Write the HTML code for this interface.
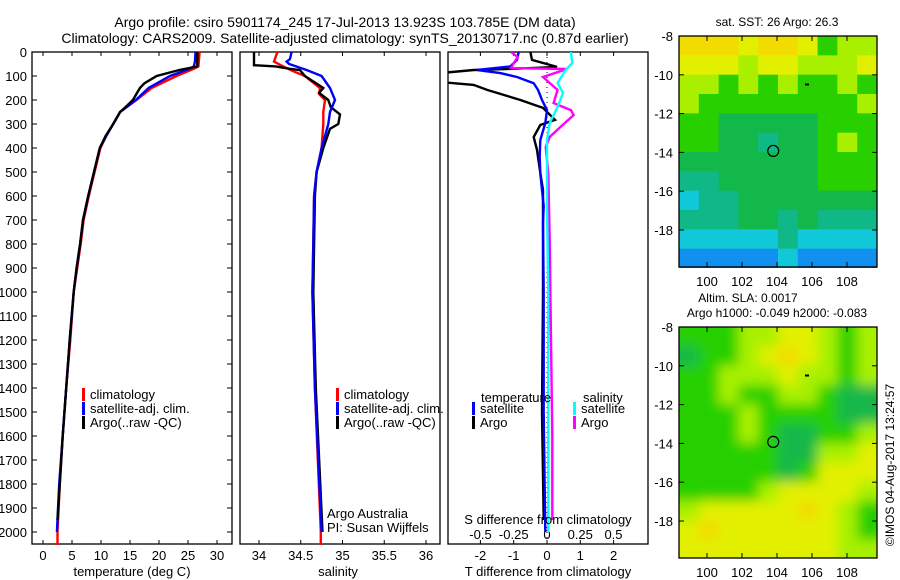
<!DOCTYPE html>
<html><head><meta charset="utf-8"><style>
html,body{margin:0;padding:0;background:#fff;}
svg{display:block;font-family:"Liberation Sans",sans-serif;}
text{fill:#000;}
</style></head><body>
<svg id="chart" width="900" height="580" viewBox="0 0 900 580" xmlns="http://www.w3.org/2000/svg">
<defs>
<clipPath id="clip3"><rect x="448" y="52" width="200" height="492"/></clipPath>
<clipPath id="clipm1"><rect x="679" y="36" width="198" height="232"/></clipPath>
<clipPath id="clipm2"><rect x="679" y="327" width="198" height="231"/></clipPath>
<filter id="blur" x="-5%" y="-5%" width="110%" height="110%"><feGaussianBlur stdDeviation="6"/></filter>
</defs>
<g id="root"></g>
</svg>
<script>
// ---- data ----
const depthTicks = [0,100,200,300,400,500,600,700,800,900,1000,1100,1200,1300,1400,1500,1600,1700,1800,1900,2000];
const tempTicks = [0,5,10,15,20,25,30];
const salTicks = [34,34.5,35,35.5,36];
const salTickLabels = ["34","34.5","35","35.5","36"];
const tdiffTicks = [-2,-1,0,1,2];
const sdiffTicks = [-0.5,-0.25,0,0.25,0.5];
const sdiffTickLabels = ["-0.5","-0.25","0","0.25","0.5"];

const climTDepth = [0,60,70,100,150,200,250,300,350,400,500,600,700,800,900,1000,1200,1400,1600,1800,2000,2054];
const climT = [27,26.8,26,23,18.7,16.1,13.3,12.1,10.9,9.9,8.9,7.9,7.0,6.5,5.9,5.3,4.7,4.0,3.4,2.9,2.5,2.5];
const satTDepth = [0,40,60,70,100,150,200,250,300,350,400,500,600,700,800,900,1000,1200,1400,1600,1800,2000];
const satT = [26.3,26.2,26.0,25.3,21.9,18.2,16.0,13.3,12.1,10.9,9.8,8.8,7.8,6.9,6.4,5.8,5.3,4.6,4.0,3.4,2.8,2.4];
const argoTDepth = [0,60,68,75,100,130,150,200,230,250,300,350,400,500,600,700,800,900,1000,1200,1400,1600,1800,1950];
const argoT = [26.6,26.6,25,23.5,19.6,17.5,16.7,15.5,14.2,13.3,12.1,10.8,9.8,8.8,7.8,6.9,6.4,5.8,5.3,4.6,4.0,3.4,2.9,2.5];

const climSDepth = [0,40,60,80,100,150,175,200,250,300,400,500,600,800,1000,1400,2000,2054];
const climS = [34.22,34.18,34.29,34.41,34.55,34.73,34.72,34.79,34.77,34.77,34.75,34.69,34.66,34.65,34.64,34.67,34.74,34.74];
const satSDepth = [0,30,40,50,75,100,150,200,250,300,350,400,500,600,800,1000,1400,2000];
const satS = [34.39,34.37,34.33,34.36,34.57,34.75,34.85,34.91,34.85,34.83,34.79,34.75,34.69,34.66,34.65,34.64,34.67,34.75];
const argoSDepth = [0,55,60,70,75,100,150,170,200,230,260,300,320,400,500,600,1000,1400,2000];
const argoS = [33.94,33.94,34.2,34.37,34.49,34.55,34.77,34.72,34.83,34.86,34.97,34.95,34.85,34.77,34.69,34.67,34.65,34.68,34.76];

const dTsatDepth = [0,33,60,75,88,104,130,158,200,242,296,367,437,504,575,642,713,1000,1500,2000];
const dTsat = [-0.85,-0.9,-1.1,-2.1,-1.4,-0.9,-0.4,-0.27,-0.15,0,-0.05,-0.2,-0.22,-0.2,-0.15,-0.1,-0.12,-0.1,-0.1,-0.05];
const dTargoDepth = [0,33,54,62,70,75,88,125,137,158,200,233,283,304,354,408,504,575,713,1000,1500,1950];
const dTargo = [-0.5,-0.45,0.1,0.3,-1,-2.2,-3.2,-3.2,-2.2,-1.8,-0.8,-0.12,0.24,-0.2,-0.4,-0.3,-0.2,-0.12,-0.12,-0.12,-0.15,-0.1];
const dSsatDepth = [0,46,75,129,171,229,296,367,504,645,1000,1500,2000];
const dSsat = [0.18,0.19,0.14,0.08,0.12,0.08,0.02,0,0,0,0.01,0.01,0.01];
const dSargoDepth = [0,21,46,67,71,104,129,158,213,242,263,313,354,396,504,783,1200,1600,1950];
const dSargo = [-0.27,-0.22,-0.25,-0.27,0.15,-0.03,0.02,0.08,0.05,0.18,0.2,0.1,0.02,-0.01,0.01,0.02,0.03,0.04,0.04];

const lonTicks = [100,102,104,106,108];
const latTicks = [-8,-10,-12,-14,-16,-18];
const argoLon = 103.785, argoLat = -13.923;
const sstGrid = [
"OOOYOOYGLL","YYYLYYLLLY","LLGLGLGGLG","LGGGGGGGGL","GGDDDDDGGG","GGDDTDDGLG",
"DDDDDDDGGG","TTDDDDDGGG","CTTDDDDDDD","TTTDDTDTTT","CCCCCTCCCC","BBBBBCBBBB"];
const slaGrid = [
"GGGLLYYLGL","DGGLYOYLGL","GGLLLYLLGL","GGLGGLLGDD","GGGLGGGGDD","GGGLGDDGGL",
"GGGGGDDLLY","GGGGGDGYYY","GGGGLYYYYL","LYYYYYOYLG","YOYYYYYYLG","YYYYYYYYLL"];
const palette = {O:"#f2dc00",Y:"#e2f000",L:"#a8f000",G:"#28d000",D:"#12b84a",T:"#10b888",C:"#10c8d8",B:"#1290f0"};

// ---- scales ----
const yD = d => 52 + d*0.24;
const xT = t => 43 + t*5.8;
const xS = s => 259 + (s-34)*83.5;
const xDT = v => 547 + v*33.3;
const xDS = v => 547 + v*133;
const mLon = lo => 707 + (lo-100)*17.5;
const m1Lat = la => 36 + (-8-la)*19.4;
const m2Lat = la => 327 + (-8-la)*19.4;

const NS="http://www.w3.org/2000/svg";
const root=document.getElementById('root');
function mk(tag,attrs,parent){const e=document.createElementNS(NS,tag);for(const k in attrs)e.setAttribute(k,attrs[k]);(parent||root).appendChild(e);return e;}
function txt(x,y,s,size,anchor,parent){const t=mk('text',{x:x,y:y,'font-size':size||13,'text-anchor':anchor||'middle'},parent);t.textContent=s;return t;}

// titles
let t1=txt(345,27,"Argo profile: csiro 5901174_245 17-Jul-2013 13.923S 103.785E (DM data)",14);


let t2=txt(345,43,"Climatology: CARS2009. Satellite-adjusted climatology: synTS_20130717.nc (0.87d earlier)",14);



function panel(x0,name){
  const g=mk('g',{});
  
  
  const r=mk('rect',{x:x0,y:52,width:200,height:492,fill:'none',stroke:'#000','stroke-width':1.3},g);
  
  
  return g;
}
function xticks(g,vals,labels,fx,y,len){
  vals.forEach((v,i)=>{
    const x=fx(v);
    mk('line',{x1:x,x2:x,y1:52,y2:52+len,stroke:'#000'},g);
    mk('line',{x1:x,x2:x,y1:544,y2:544-len,stroke:'#000'},g);
    const t=txt(x,y,labels[i],13,'middle',g);
    
    
  });
}
function series(g,depths,vals,fx,color,name,w){
  const pts=depths.map((d,i)=>fx(vals[i]).toFixed(1)+','+yD(d).toFixed(1)).join(' ');
  const p=mk('polyline',{points:pts,fill:'none',stroke:color,'stroke-width':w||2.4,'stroke-linejoin':'miter'},g);
  
  
}
function legendEntry(g,x,y,color,label,name){
  const e=mk('g',{},g);
  
  
  mk('rect',{x:x,y:y-10,width:3,height:13,fill:color},e);
  txt(x+8,y+1,label,13,'start',e);
}

// panel 1 temperature
const p1=panel(32,'temperature-panel');
depthTicks.forEach(d=>{
  const y=yD(d);
  mk('line',{x1:32,x2:37,y1:y,y2:y,stroke:'#000'},p1);
  mk('line',{x1:232,x2:227,y1:y,y2:y,stroke:'#000'},p1);
  const t=txt(27,y+5,String(d),13,'end',p1);
  
  
});
xticks(p1,tempTicks,tempTicks.map(String),xT,560,4);
let xl1=txt(132,576,"temperature (deg C)",13);


series(p1,climTDepth,climT,xT,'#ff0000','climatology-temperature-line');
series(p1,satTDepth,satT,xT,'#0000ff','satellite-temperature-line');
series(p1,argoTDepth,argoT,xT,'#000000','argo-temperature-line');
legendEntry(p1,82,398,'#ff0000','climatology','legend-climatology');
legendEntry(p1,82,412,'#0000ff','satellite-adj. clim.','legend-satellite');
legendEntry(p1,82,426,'#000000','Argo(..raw -QC)','legend-argo');

// panel 2 salinity
const p2=panel(240,'salinity-panel');
xticks(p2,salTicks,salTickLabels,xS,560,4);
let xl2=txt(338,576,"salinity",13);


series(p2,climSDepth,climS,xS,'#ff0000','climatology-salinity-line');
series(p2,argoSDepth,argoS,xS,'#000000','argo-salinity-line');
series(p2,satSDepth,satS,xS,'#0000ff','satellite-salinity-line');
legendEntry(p2,336,398,'#ff0000','climatology','legend-climatology-2');
legendEntry(p2,336,412,'#0000ff','satellite-adj. clim.','legend-satellite-2');
legendEntry(p2,336,426,'#000000','Argo(..raw -QC)','legend-argo-2');
let cr1=txt(327,518,"Argo Australia",13,'start',p2);


let cr2=txt(327,532,"PI: Susan Wijffels",13,'start',p2);



// panel 3 differences
const p3=panel(448,'difference-panel');
xticks(p3,tdiffTicks,tdiffTicks.map(String),xDT,560,4);
sdiffTicks.forEach((v,i)=>{
  const t=txt(xDS(v),539,sdiffTickLabels[i],13,'middle',p3);
  
  
});
let sdl=txt(548,524,"S difference from climatology",13);


let xl3=txt(548,576,"T difference from climatology",13);


const zl=mk('line',{x1:xDT(0),x2:xDT(0),y1:52,y2:544,stroke:'#000','stroke-dasharray':'1,4'},p3);


const c3=mk('g',{'clip-path':'url(#clip3)'},p3);
series(c3,dTargoDepth,dTargo,xDT,'#000000','argo-t-diff-line');
series(c3,dTsatDepth,dTsat,xDT,'#0000ff','satellite-t-diff-line');
series(c3,dSargoDepth,dSargo,xDS,'#ff00ff','argo-s-diff-line');
series(c3,dSsatDepth,dSsat,xDS,'#00ffff','satellite-s-diff-line');
let lt=txt(481,402,"temperature",13,'start',p3);


let ls=txt(583,402,"salinity",13,'start',p3);


legendEntry(p3,472,412,'#0000ff','satellite','legend-t-satellite');
legendEntry(p3,472,426,'#000000','Argo','legend-t-argo');
legendEntry(p3,573,412,'#00ffff','satellite','legend-s-satellite');
legendEntry(p3,573,426,'#ff00ff','Argo','legend-s-argo');

// maps
function drawMap(grid,fLat,top,clip,name,blur){
  const g=mk('g',{});
  
  
  const cg=mk('g',{'clip-path':'url(#'+clip+')'},g);
  const inner=mk('g',blur?{filter:'url(#blur)'}:{},cg);
  const cw=198/grid[0].length, ch=232/grid.length;
  const pad=blur?1:0;
  grid.forEach((row,r)=>{
    for(let c=0;c<row.length;c++){
      let x=679+c*cw, y=top+r*ch, w=cw+0.6, h=ch+0.6;
      if(blur){ if(c===0){x-=12;w+=12;} if(c===row.length-1){w+=12;} if(r===0){y-=12;h+=12;} if(r===grid.length-1){h+=12;} }
      mk('rect',{x:x,y:y,width:w,height:h,fill:palette[row[c]]},inner);
    }
  });
  const fr=mk('rect',{x:679,y:top,width:198,height:231,fill:'none',stroke:'#000','stroke-width':1.3},g);
  
  
  lonTicks.forEach(lo=>{
    const x=mLon(lo);
    mk('line',{x1:x,x2:x,y1:top+231,y2:top+226,stroke:'#000'},g);
    mk('line',{x1:x,x2:x,y1:top,y2:top+5,stroke:'#000'},g);
    const t=txt(x,top+250,String(lo),13,'middle',g);
    
    
  });
  latTicks.forEach(la=>{
    const y=fLat(la);
    mk('line',{x1:679,x2:684,y1:y,y2:y,stroke:'#000'},g);
    mk('line',{x1:877,x2:872,y1:y,y2:y,stroke:'#000'},g);
    const t=txt(673,y+5,String(la),13,'end',g);
    
    
  });
  const c=mk('circle',{cx:mLon(argoLon),cy:fLat(argoLat),r:5.5,fill:'none',stroke:'#000','stroke-width':1.2},g);
  
  
  mk('rect',{x:mLon(105.6),y:fLat(-10.5)-1,width:4,height:2,fill:'#000'},g);
  return g;
}
drawMap(sstGrid,m1Lat,36,'clipm1','sst-map',false);
drawMap(slaGrid,m2Lat,327,'clipm2','sla-map',true);
let mt1=txt(777,26,"sat. SST: 26 Argo: 26.3",12);


let mt2=txt(748,302,"Altim. SLA: 0.0017",12);


let mt3=txt(777,317,"Argo h1000: -0.049 h2000: -0.083",12);


let st=txt(0,0,"©IMOS 04-Aug-2017 13:24:57",12);
st.setAttribute('transform','translate(894,465) rotate(-90)');


</script>
</body></html>
